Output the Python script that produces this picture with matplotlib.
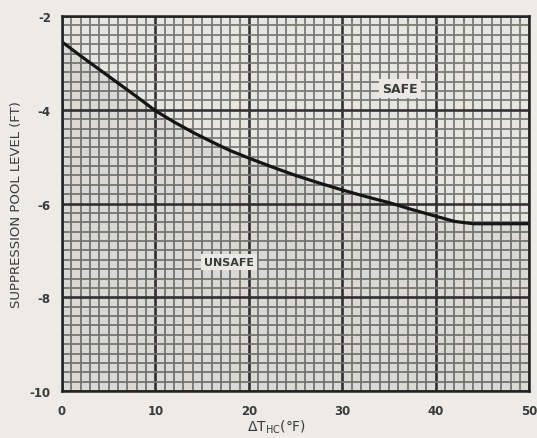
import numpy as np
import matplotlib.pyplot as plt

# limit curve: suppression pool level vs. delta T (HC)
dt_hc = [0, 2, 4, 6, 8, 10, 12, 14, 16, 18, 20, 22.5, 25, 27.5, 30,
         32.5, 35, 37.5, 40, 42, 44, 50]
pool_level = [-2.55, -2.85, -3.14, -3.43, -3.72, -4.02, -4.26, -4.48, -4.68,
              -4.87, -5.03, -5.22, -5.4, -5.56, -5.71, -5.85, -5.98, -6.13,
              -6.27, -6.38, -6.43, -6.43]

x_ticks = [0, 10, 20, 30, 40, 50]
y_ticks = [-2, -4, -6, -8, -10]

fig = plt.figure(figsize=(5.37, 4.39), dpi=100)
fig.patch.set_facecolor('#ecebe6')
ax = fig.add_axes([0.1155, 0.107, 0.87, 0.854])
ax.set_facecolor('#e6e5e0')

ax.set_xlim(0, 50)
ax.set_ylim(-10, -2)

# graph paper grid
for x in np.arange(0, 50.01, 1):
    major = abs(x % 10) < 1e-6
    ax.axvline(x, color='#333333' if major else '#7a7a7a',
               lw=1.9 if major else 1.3, zorder=1)
for y in np.arange(-10, -1.99, 0.2):
    major = abs(round(y, 1) % 2) < 1e-6
    ax.axhline(y, color='#333333' if major else '#7a7a7a',
               lw=1.9 if major else 1.3, zorder=1)

# unsafe region slightly shaded
ax.fill_between(dt_hc, pool_level, -10, color='#000000', alpha=0.05, lw=0, zorder=2)
ax.plot(dt_hc, pool_level, color='#151515', lw=2.3, zorder=3,
        solid_capstyle='round', solid_joinstyle='round')

box = dict(boxstyle='square,pad=0.25', fc='#e9e8e3', ec='none')
ax.text(36.2, -3.55, 'SAFE', ha='center', va='center', fontsize=9,
        fontweight='bold', color='#3a3a3a', bbox=box, zorder=4)
ax.text(17.9, -7.25, 'UNSAFE', ha='center', va='center', fontsize=8,
        fontweight='bold', color='#3a3a3a', bbox=box, zorder=4)

for s in ax.spines.values():
    s.set_color('#222222')
    s.set_linewidth(1.8)
    s.set_zorder(5)

ax.set_xticks(x_ticks)
ax.set_yticks(y_ticks)
ax.set_xticklabels([str(v) for v in x_ticks])
ax.set_yticklabels([str(v) for v in y_ticks])
ax.tick_params(length=0, labelsize=8.5, labelcolor='#3a3a3a')
ax.tick_params(axis='x', pad=9)
ax.tick_params(axis='y', pad=8)
for lbl in ax.get_xticklabels() + ax.get_yticklabels():
    lbl.set_fontweight('bold')

fig.text(0.515, 0.026, r'$\Delta$T$_{\mathsf{HC}}$(°F)', fontsize=10,
         color='#3a3a3a', ha='center', va='center')
ax.set_ylabel('SUPPRESSION POOL LEVEL (FT)', fontsize=9.5, color='#3a3a3a', labelpad=5)

fig.savefig('out.png', dpi=100, facecolor=fig.get_facecolor())
